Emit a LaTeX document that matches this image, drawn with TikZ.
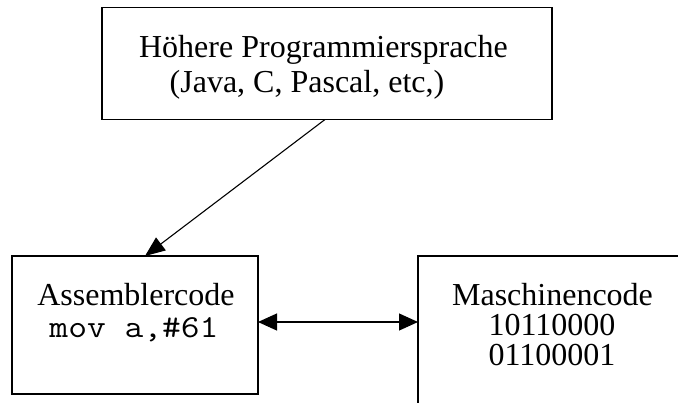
\documentclass[tikz,border=0pt]{standalone}
\usepackage{fontspec}
\setmainfont{Liberation Serif}
\setmonofont[FakeStretch=1.14]{Latin Modern Mono}
\usetikzlibrary{arrows.meta}
\begin{document}
\begin{tikzpicture}[x=1pt,y=-1pt,
  boxnode/.style={draw,line width=1.7pt,inner sep=0pt,outer sep=0pt},
  txt/.style={inner sep=0pt,outer sep=0pt,anchor=base,font=\fontsize{32}{35}\selectfont},
  mono/.style={txt,font=\fontsize{32}{35}\selectfont\ttfamily},
  arr/.style={line width=1.1pt,-{Triangle[length=20pt,width=16pt]}},
  dbl/.style={line width=1.1pt,{Triangle[length=19pt,width=17pt]}-{Triangle[length=19pt,width=17pt]}}]
\useasboundingbox (0,0) rectangle (678,402);
\begin{scope}
\clip (0,0) rectangle (678,402);
\node[boxnode,minimum width=450pt,minimum height=112pt] (top) at (327,63.5) {};
\node[boxnode,minimum width=246pt,minimum height=138pt] (asm) at (135,325) {};
\node[boxnode,minimum width=272pt,minimum height=154pt] (mach) at (554,333) {};
\end{scope}
\node[txt] (t1) at (323.5,57) {Höhere Programmiersprache};
\node[txt] (t2) at (307,92.5) {(Java, C, Pascal, etc,)};
\node[txt] (a1) at (136,305) {Assemblercode};
\node[mono] (a2) at (134,337) {mov a,\#61};
\node[txt] (m1) at (552.5,305) {Maschinencode};
\node[txt] (m2) at (552,335) {10110000};
\node[txt] (m3) at (552,365) {01100001};
\draw[arr] ([xshift=-2pt]top.south) -- ([xshift=10pt]asm.north);
\draw[dbl] ([yshift=3pt]asm.east) -- ([yshift=3pt]asm.east -| mach.west);
\end{tikzpicture}
\end{document}
